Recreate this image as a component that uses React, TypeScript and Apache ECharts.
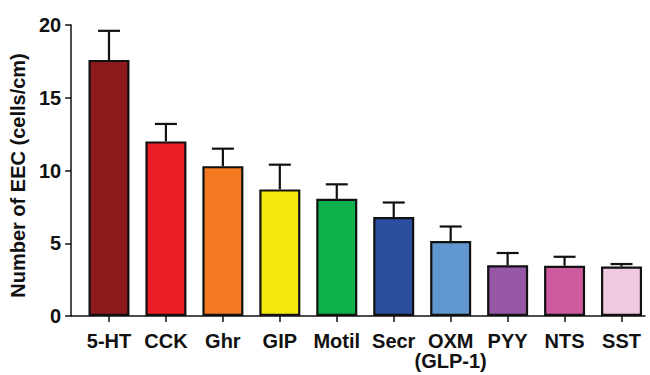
import React, { useEffect, useRef } from "react";
import * as echarts from "echarts";

const categories = ["5-HT", "CCK", "Ghr", "GIP", "Motil", "Secr", "OXM\n(GLP-1)", "PYY", "NTS", "SST"];
const means = [17.6, 12.0, 10.3, 8.7, 8.05, 6.8, 5.15, 3.48, 3.45, 3.4];
const errors = [2.0, 1.2, 1.2, 1.7, 1.0, 1.0, 1.0, 0.85, 0.62, 0.17];
const barColors = ["#8f1a1e", "#ec1c24", "#f47920", "#f5ea0f", "#0db14b", "#2b4e9f", "#6097d0", "#9658a5", "#ce5aa0", "#efc9e0"];
const yTicks = [0, 5, 10, 15, 20];

const FONT = "'Liberation Sans', Arial, Helvetica, sans-serif";
const INK = "#111111";

export default function App() {
  const ref = useRef<HTMLDivElement>(null);
  useEffect(() => {
    if (!ref.current) return;
    const chart = echarts.init(ref.current, null, { renderer: "svg" });
    const yMin = yTicks[0];
    const yMax = yTicks[yTicks.length - 1];
    const yStep = yTicks[1] - yTicks[0];
    chart.setOption({
      animation: false,
      backgroundColor: "#ffffff",
      grid: [
        { left: 80.5, right: -0.5, top: 25, bottom: 59 },
        { left: 65, right: 5, top: 25, bottom: 59 },
      ],
      xAxis: [
        {
          type: "category",
          gridIndex: 0,
          data: categories,
          boundaryGap: true,
          axisLine: { show: false },
          axisTick: { show: true, alignWithLabel: true, length: 6, lineStyle: { color: INK, width: 1.5 } },
          axisLabel: {
            color: INK,
            fontFamily: FONT,
            fontWeight: "bold",
            fontSize: 20,
            lineHeight: 20,
            margin: 15,
            interval: 0,
          },
          splitLine: { show: false },
          z: 5,
        },
        {
          type: "value",
          gridIndex: 1,
          min: 0,
          max: 1,
          axisLine: { show: true, onZero: false, lineStyle: { color: INK, width: 1.5 } },
          axisTick: { show: false },
          axisLabel: { show: false },
          splitLine: { show: false },
        },
      ],
      yAxis: [
        {
          type: "value",
          gridIndex: 0,
          min: yMin,
          max: yMax,
          interval: yStep,
          show: false,
          splitLine: { show: false },
        },
        {
          type: "value",
          gridIndex: 1,
          min: yMin,
          max: yMax,
          interval: yStep,
          axisLine: { show: true, lineStyle: { color: INK, width: 1.5 } },
          axisTick: { show: true, length: 6, lineStyle: { color: INK, width: 1.5 } },
          axisLabel: { color: INK, fontFamily: FONT, fontWeight: "bold", fontSize: 20, margin: 10 },
          splitLine: { show: false },
          name: "Number of EEC (cells/cm)",
          nameLocation: "middle",
          nameRotate: 90,
          nameGap: 35,
          nameTextStyle: { color: INK, fontFamily: FONT, fontWeight: "bold", fontSize: 20, padding: [0, 10, 0, 0] },
        },
      ],
      series: [
        {
          type: "bar",
          xAxisIndex: 0,
          yAxisIndex: 0,
          barWidth: 41,
          data: means.map((v, i) => ({
            value: v,
            itemStyle: { color: barColors[i], borderColor: INK, borderWidth: 2.2 },
          })),
          z: 3,
        },
        {
          type: "custom",
          xAxisIndex: 0,
          yAxisIndex: 0,
          data: means.map((v, i) => [i, v, v + errors[i]]),
          renderItem: (params: any, api: any) => {
            const x = api.value(0);
            const lo = api.coord([x, api.value(1)]);
            const hi = api.coord([x, api.value(2)]);
            const half = 11;
            const style = { stroke: INK, lineWidth: 2.2, fill: "none" };
            return {
              type: "group",
              children: [
                { type: "line", shape: { x1: lo[0], y1: lo[1], x2: hi[0], y2: hi[1] }, style },
                { type: "line", shape: { x1: hi[0] - half, y1: hi[1], x2: hi[0] + half, y2: hi[1] }, style },
              ],
            };
          },
          z: 2,
        },
      ],
    });
    return () => chart.dispose();
  }, []);
  return <div ref={ref} style={{ width: 650, height: 375, position: "absolute", left: 0, top: 0 }} />;
}
